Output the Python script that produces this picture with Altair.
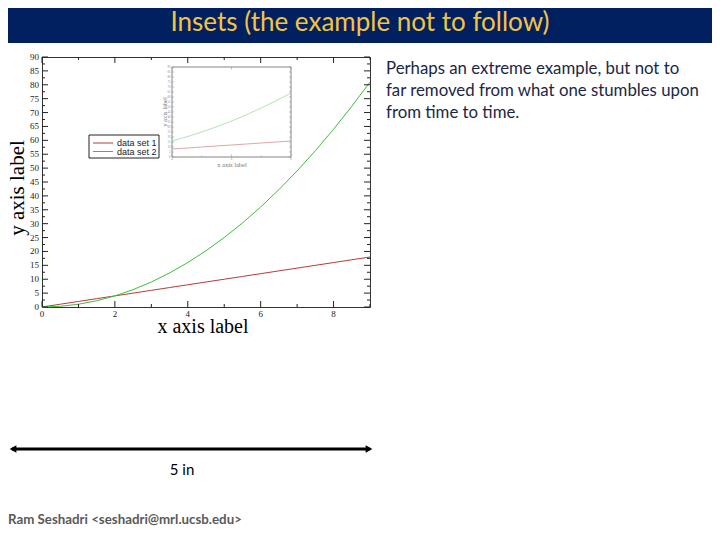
import altair as alt
import pandas as pd

# ---------------- data ----------------
x_vals = [0, 0.5, 1, 1.5, 2, 2.5, 3, 3.5, 4, 4.5, 5, 5.5, 6, 6.5, 7, 7.5, 8, 8.5, 9]
set1_vals = [0, 1, 2, 3, 4, 5, 6, 7, 8, 9, 10, 11, 12, 13, 14, 15, 16, 17, 18]
set2_vals = [0, 0.25, 1, 2.25, 4, 6.25, 9, 12.25, 16, 20.25, 25, 30.25, 36, 42.25,
             49, 56.25, 64, 72.25, 81]
series_names = ["data set 1", "data set 2"]
series_colors = ["#b03e3e", "#3cbe3c"]
inset_colors = ["#dba9a9", "#b5e3b5"]

x_major = [0, 2, 4, 6, 8]
x_minor = [1, 3, 5, 7, 9]
y_major = [0, 5, 10, 15, 20, 25, 30, 35, 40, 45, 50, 55, 60, 65, 70, 75, 80, 85, 90]
y_minor = [2.5, 7.5, 12.5, 17.5, 22.5, 27.5, 32.5, 37.5, 42.5, 47.5, 52.5, 57.5,
           62.5, 67.5, 72.5, 77.5, 82.5, 87.5]

inset_x_domain = [4, 8]
inset_y_domain = [0, 90]
inset_x_major = [4, 6, 8]
inset_x_minor = [5, 7]
inset_y_ticks = y_major

x_title = "x axis label"
y_title = "y axis label"
title_text = "Insets (the example not to follow)"
para_lines = ["Perhaps an extreme example, but not to",
              "far removed from what one stumbles upon",
              "from time to time."]
scale_text = "5 in"
footer_text = "Ram Seshadri <seshadri@mrl.ucsb.edu>"

# ---------------- layout (plot area 328 x 250) ----------------
W, H = 328, 250
IL, IR, IT, IB = 130, 249, 10, 100   # inset box inside the plot area

rows = []
for name, vals in zip(series_names, [set1_vals, set2_vals]):
    for xv, yv in zip(x_vals, vals):
        rows.append({"x": xv, "y": yv, "series": name})
df = pd.DataFrame(rows)
df_inset = df[(df["x"] >= inset_x_domain[0]) & (df["x"] <= inset_x_domain[1])]

xs = alt.Scale(domain=[0, 9], nice=False, zero=False)
ys = alt.Scale(domain=[0, 90], nice=False)
ixs = alt.Scale(domain=inset_x_domain, nice=False, zero=False, range=[IL, IR])
iys = alt.Scale(domain=inset_y_domain, nice=False, range=[IB, IT])

one = alt.Data(values=[{}])
serif = "Liberation Serif"
sans = "Liberation Sans"

main_lines = alt.Chart(df).mark_line(strokeWidth=1).encode(
    x=alt.X("x:Q", scale=xs, axis=None),
    y=alt.Y("y:Q", scale=ys, axis=None),
    color=alt.Color("series:N", scale=alt.Scale(domain=series_names, range=series_colors),
                    legend=None),
)


def ticks(vals, chan, side, length, xscale, yscale, box, color="#222", width=1.0):
    left, right, top, bottom = box
    d = pd.DataFrame({"v": vals})
    base = alt.Chart(d).mark_rule(color=color, strokeWidth=width)
    if chan == "x":
        y0, y1 = (bottom, bottom - length) if side == "bottom" else (top, top + length)
        return base.encode(x=alt.X("v:Q", scale=xscale, axis=None),
                           y=alt.value(y0), y2=alt.value(y1))
    x0, x1 = (left, left + length) if side == "left" else (right, right - length)
    return base.encode(y=alt.Y("v:Q", scale=yscale, axis=None),
                       x=alt.value(x0), x2=alt.value(x1))


mbox = (0, W, 0, H)
main_ticks = [
    ticks(x_major, "x", "bottom", 6, xs, ys, mbox),
    ticks(x_minor, "x", "bottom", 3, xs, ys, mbox),
    ticks(x_major, "x", "top", 6, xs, ys, mbox),
    ticks(x_minor, "x", "top", 3, xs, ys, mbox),
    ticks(y_major, "y", "left", 6, xs, ys, mbox),
    ticks(y_minor, "y", "left", 3, xs, ys, mbox),
    ticks(y_major, "y", "right", 6, xs, ys, mbox),
    ticks(y_minor, "y", "right", 3, xs, ys, mbox),
]
x_labels = alt.Chart(pd.DataFrame({"v": x_major})).mark_text(
    font=serif, fontSize=9, color="#222", align="center", baseline="top").encode(
    x=alt.X("v:Q", scale=xs, axis=None), y=alt.value(H + 2.5), text="v:Q")
y_labels = alt.Chart(pd.DataFrame({"v": y_major})).mark_text(
    font=serif, fontSize=9, color="#222", align="right", baseline="middle").encode(
    y=alt.Y("v:Q", scale=ys, axis=None), x=alt.value(-3), text="v:Q")
x_title_mark = alt.Chart(one).mark_text(
    text=x_title, font=serif, fontSize=20, color="black", align="center",
    baseline="middle").encode(x=alt.value(161), y=alt.value(269.5))
y_title_mark = alt.Chart(one).mark_text(
    text=y_title, font=serif, fontSize=21, color="black", align="center",
    baseline="middle", angle=270).encode(x=alt.value(-24), y=alt.value(131))

main = alt.layer(main_lines, *main_ticks, x_labels, y_labels)

# ---------------- inset ----------------
ibox = (IL, IR, IT, IB)
inset_frame = alt.Chart(one).mark_rect(fill="white", stroke="#666", strokeWidth=0.8).encode(
    x=alt.value(IL), x2=alt.value(IR), y=alt.value(IT), y2=alt.value(IB))
inset_lines = alt.Chart(df_inset).mark_line(strokeWidth=1).encode(
    x=alt.X("x:Q", scale=ixs, axis=None),
    y=alt.Y("y:Q", scale=iys, axis=None),
    color=alt.Color("series:N", scale=alt.Scale(domain=series_names, range=inset_colors),
                    legend=None),
)
inset_ylabels = alt.Chart(pd.DataFrame({"v": inset_y_ticks})).mark_text(
    font=serif, fontSize=3, color="#888", align="right", baseline="middle").encode(
    y=alt.Y("v:Q", scale=iys, axis=None), x=alt.value(IL - 1.5), text="v:Q")
inset_xlabels = alt.Chart(pd.DataFrame({"v": inset_x_major})).mark_text(
    font=serif, fontSize=3, color="#888", align="center", baseline="top").encode(
    x=alt.X("v:Q", scale=ixs, axis=None), y=alt.value(IB + 1), text="v:Q")
inset_ytitle = alt.Chart(one).mark_text(
    text=y_title, font=serif, fontSize=6.5, color="#777", angle=270,
    align="center", baseline="middle").encode(x=alt.value(IL - 7), y=alt.value(55))
inset_xtitle = alt.Chart(one).mark_text(
    text=x_title, font=serif, fontSize=6.5, color="#777",
    align="center", baseline="middle").encode(x=alt.value(190), y=alt.value(IB + 8))
inset_ticks = [
    ticks(inset_x_major, "x", "bottom", 2.5, ixs, iys, ibox, "#999", 0.6),
    ticks(inset_x_minor, "x", "bottom", 1.5, ixs, iys, ibox, "#999", 0.6),
    ticks(inset_x_major, "x", "top", 2.5, ixs, iys, ibox, "#999", 0.6),
    ticks(inset_y_ticks, "y", "left", 2, ixs, iys, ibox, "#999", 0.6),
    ticks(inset_y_ticks, "y", "right", 2, ixs, iys, ibox, "#999", 0.6),
]
inset = alt.layer(inset_frame, inset_lines, *inset_ticks, inset_ylabels, inset_xlabels)

# ---------------- legend (drawn like the xmgrace one) ----------------
legend_box = alt.Chart(one).mark_rect(fill="white", stroke="#222", strokeWidth=1).encode(
    x=alt.value(47), x2=alt.value(117), y=alt.value(78), y2=alt.value(101))
legend_parts = [legend_box]
for i, (name, col) in enumerate(zip(series_names, series_colors)):
    yy = 86 + i * 8.5
    legend_parts.append(alt.Chart(one).mark_rule(color=col, strokeWidth=1).encode(
        x=alt.value(51), x2=alt.value(71), y=alt.value(yy)))
    legend_parts.append(alt.Chart(one).mark_text(
        text=name, font=sans, fontSize=9, color="#222", align="left",
        baseline="middle").encode(x=alt.value(75), y=alt.value(yy)))

# ---------------- slide decorations ----------------
title_bar = alt.Chart(one).mark_rect(color="#002060").encode(
    x=alt.value(-34), x2=alt.value(670), y=alt.value(-49), y2=alt.value(-14))
title = alt.Chart(one).mark_text(
    text=title_text, font="Lato", fontSize=26, color="#f2c443", align="center",
    baseline="middle").encode(x=alt.value(318), y=alt.value(-34))
para = alt.Chart(one).mark_text(
    text="\n".join(para_lines), lineBreak="\n", lineHeight=22, font="Lato", fontSize=16.8,
    color="#1a2744", align="left", baseline="middle").encode(
    x=alt.value(344), y=alt.value(12))
arrow_line = alt.Chart(one).mark_rule(color="black", strokeWidth=3).encode(
    x=alt.value(-30), x2=alt.value(328), y=alt.value(392))
arrow_l = alt.Chart(one).mark_point(shape="triangle-left", filled=True, size=60,
                                    color="black", opacity=1).encode(
    x=alt.value(-29), y=alt.value(392))
arrow_r = alt.Chart(one).mark_point(shape="triangle-right", filled=True, size=60,
                                    color="black", opacity=1).encode(
    x=alt.value(327), y=alt.value(392))
scale_lbl = alt.Chart(one).mark_text(
    text=scale_text, font="Lato", fontSize=15, color="black", align="center",
    baseline="middle").encode(x=alt.value(140), y=alt.value(413))
footer = alt.Chart(one).mark_text(
    text=footer_text, font="Lato", fontSize=13.3, fontWeight="bold", color="#595959",
    align="left", baseline="alphabetic").encode(x=alt.value(-34), y=alt.value(467))

chart = alt.layer(
    main, inset, inset_ytitle, inset_xtitle, *legend_parts, x_title_mark, y_title_mark,
    title_bar, title, para, arrow_line, arrow_l, arrow_r, scale_lbl, footer,
).resolve_scale(
    x="independent", y="independent", color="independent"
).properties(
    width=W, height=H,
    autosize=alt.AutoSizeParams(type="none"),
    padding={"left": 34, "top": 49, "right": 342, "bottom": 219},
    background="white",
).configure_view(stroke="#333", strokeWidth=1)

chart.save("out.html", embed_options={"renderer": "svg", "actions": False})
